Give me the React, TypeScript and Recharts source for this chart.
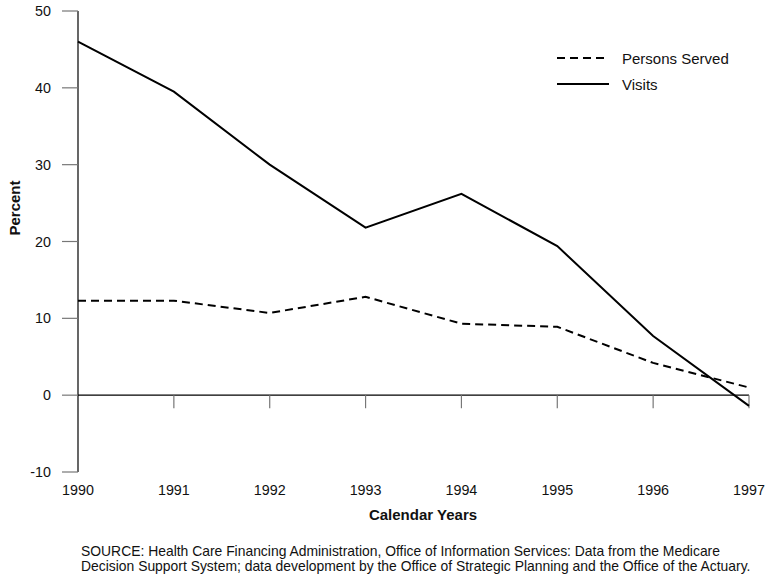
import React from 'react';
import { LineChart, Line, XAxis, YAxis, ReferenceLine, Legend } from 'recharts';

const years = ['1990', '1991', '1992', '1993', '1994', '1995', '1996', '1997'];
const personsServed = [12.3, 12.3, 10.7, 12.8, 9.3, 8.9, 4.2, 1.0];
const visits = [46.0, 39.5, 30.0, 21.8, 26.2, 19.4, 7.7, -1.4];
const yTicks = [-10, 0, 10, 20, 30, 40, 50];

const data = years.map((y, i) => ({ year: y, persons: personsServed[i], visits: visits[i] }));

const FONT = '"Liberation Sans", Arial, Helvetica, sans-serif';

const LegendContent = () => (
  <svg width={200} height={60} style={{ display: 'block' }}>
    <line x1={2} y1={8} x2={54} y2={8} stroke="#000" strokeWidth={2} strokeDasharray="8 5" />
    <text x={67} y={13.5} fontSize={15} fontFamily={FONT} fill="#111">Persons Served</text>
    <line x1={2} y1={34} x2={54} y2={34} stroke="#000" strokeWidth={2} />
    <text x={67} y={39.5} fontSize={15} fontFamily={FONT} fill="#111">Visits</text>
  </svg>
);

export default function App() {
  return (
    <div style={{ position: 'absolute', left: 0, top: 0, width: 770, height: 588, background: '#fff', fontFamily: FONT }}>
      <LineChart width={770} height={588} data={data} margin={{ top: 11, right: 21, bottom: 0, left: 0 }}>
        <XAxis
          dataKey="year"
          axisLine={false}
          tickLine={false}
          height={116}
          tickMargin={7}
          tick={{ fontSize: 14.3, fill: '#111', fontFamily: FONT }}
          interval={0}
        />
        <YAxis
          width={78}
          domain={[-10, 50]}
          ticks={yTicks}
          axisLine={{ stroke: '#000', strokeWidth: 1.2 }}
          tickLine={{ stroke: '#777', strokeWidth: 1.2 }}
          tickSize={16}
          tickMargin={11}
          tick={{ fontSize: 14.3, fill: '#111', fontFamily: FONT }}
          allowDataOverflow
        />
        <ReferenceLine y={0} stroke="#000" strokeWidth={1.2} />
        {years.slice(1).map((y) => (
          <ReferenceLine
            key={y}
            segment={[{ x: y, y: 0 }, { x: y, y: -1.7 }]}
            stroke="#777"
            strokeWidth={1.2}
          />
        ))}
        <Legend
          verticalAlign="middle"
          align="center"
          layout="vertical"
          content={<LegendContent />}
          wrapperStyle={{ position: 'absolute', left: 555, top: 50, width: 200, height: 60 }}
        />
        <Line
          type="linear"
          dataKey="persons"
          name="Persons Served"
          stroke="#000"
          strokeWidth={2}
          strokeDasharray="8 5"
          dot={false}
          isAnimationActive={false}
        />
        <Line
          type="linear"
          dataKey="visits"
          name="Visits"
          stroke="#000"
          strokeWidth={2}
          dot={false}
          isAnimationActive={false}
        />
      </LineChart>
      <div
        style={{
          position: 'absolute', left: 14, top: 208, transform: 'translate(-50%, -50%) rotate(-90deg)',
          fontSize: 15, fontWeight: 'bold', color: '#111', whiteSpace: 'nowrap',
        }}
      >
        Percent
      </div>
      <div
        style={{
          position: 'absolute', left: 423, top: 514, transform: 'translate(-50%, -50%)',
          fontSize: 15, fontWeight: 'bold', color: '#111', whiteSpace: 'nowrap',
        }}
      >
        Calendar Years
      </div>
      <div
        style={{
          position: 'absolute', left: 81, top: 544, fontSize: 13.9, lineHeight: '15px', color: '#111', whiteSpace: 'nowrap',
        }}
      >
        SOURCE: Health Care Financing Administration, Office of Information Services: Data from the Medicare
        <br />
        Decision Support System; data development by the Office of Strategic Planning and the Office of the Actuary.
      </div>
    </div>
  );
}
